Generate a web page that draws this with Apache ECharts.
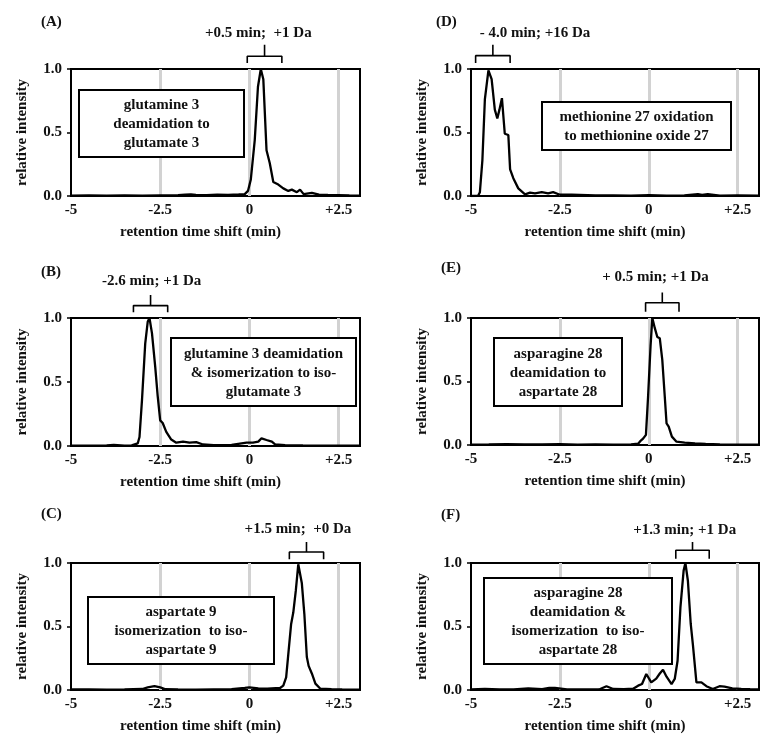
<!DOCTYPE html>
<html>
<head>
<meta charset="utf-8">
<script src="https://cdn.jsdelivr.net/npm/echarts@6/dist/echarts.min.js"></script>
<style>
html,body{margin:0;padding:0;background:#fff;}
#chart{width:776px;height:747px;}
</style>
</head>
<body>
<div id="chart"></div>
<script>
// ---------- data ----------
const xTicks = [-5, -2.5, 0, 2.5];
const xTickLabels = ['-5', '-2.5', '0', '+2.5'];
const yTicks = [0, 0.5, 1.0];
const grayLines = [-2.5, 0, 2.5];

const timeA = [-5, -4.5, -4, -3.5, -3, -2.5, -2, -1.8, -1.64, -1.5, -1.2, -0.9, -0.6, -0.3, -0.13, -0.04, 0.04, 0.15, 0.24, 0.32, 0.39, 0.48, 0.57, 0.67, 0.81, 0.95, 1.09, 1.19, 1.33, 1.42, 1.52, 1.75, 1.95, 2.2, 2.5, 2.8, 3.1];
const intA  = [0.003, 0.005, 0.002, 0.004, 0.003, 0.005, 0.006, 0.01, 0.012, 0.008, 0.006, 0.01, 0.008, 0.012, 0.015, 0.04, 0.13, 0.44, 0.86, 1.0, 0.92, 0.36, 0.26, 0.11, 0.09, 0.06, 0.04, 0.05, 0.03, 0.05, 0.015, 0.025, 0.01, 0.008, 0.006, 0.004, 0.003];

const timeB = [-5, -4.5, -4, -3.8, -3.5, -3.3, -3.13, -3.08, -3.01, -2.92, -2.85, -2.80, -2.73, -2.64, -2.57, -2.50, -2.43, -2.33, -2.19, -2.05, -1.86, -1.68, -1.49, -1.3, -1.0, -0.5, -0.08, 0.1, 0.25, 0.34, 0.48, 0.63, 0.72, 1.0, 1.5, 2.0, 2.5, 3.1];
const intB  = [0.002, 0.003, 0.004, 0.008, 0.003, 0.005, 0.02, 0.07, 0.36, 0.80, 0.97, 1.0, 0.88, 0.62, 0.39, 0.20, 0.18, 0.11, 0.05, 0.026, 0.034, 0.026, 0.03, 0.012, 0.006, 0.008, 0.026, 0.026, 0.034, 0.06, 0.047, 0.034, 0.013, 0.006, 0.004, 0.003, 0.003, 0.002];

const timeC = [-5, -4.5, -4, -3.5, -3.0, -2.85, -2.66, -2.5, -2.35, -2.0, -1.5, -1.0, -0.5, -0.13, 0.0, 0.25, 0.5, 0.86, 0.95, 1.03, 1.09, 1.17, 1.23, 1.30, 1.37, 1.40, 1.47, 1.54, 1.61, 1.66, 1.75, 1.85, 1.99, 2.3, 2.6, 3.1];
const intC  = [0.004, 0.005, 0.003, 0.004, 0.008, 0.02, 0.03, 0.02, 0.006, 0.004, 0.003, 0.005, 0.006, 0.016, 0.02, 0.013, 0.01, 0.016, 0.034, 0.10, 0.28, 0.52, 0.61, 0.78, 0.99, 1.0, 0.84, 0.60, 0.26, 0.19, 0.13, 0.05, 0.01, 0.006, 0.004, 0.003];

const timeD = [-5, -4.8, -4.75, -4.68, -4.61, -4.51, -4.47, -4.42, -4.33, -4.26, -4.20, -4.13, -4.09, -4.05, -3.95, -3.9, -3.81, -3.67, -3.48, -3.34, -3.2, -3.01, -2.83, -2.69, -2.5, -2.17, -1.5, -1.0, -0.5, 0.0, 0.5, 1.0, 1.38, 1.5, 1.66, 2.0, 2.5, 3.1];
const intD  = [0.0, 0.002, 0.03, 0.28, 0.76, 0.99, 1.0, 0.92, 0.68, 0.61, 0.68, 0.77, 0.63, 0.49, 0.48, 0.21, 0.14, 0.06, 0.013, 0.026, 0.02, 0.03, 0.02, 0.03, 0.01, 0.01, 0.004, 0.005, 0.003, 0.006, 0.003, 0.004, 0.015, 0.008, 0.015, 0.003, 0.004, 0.002];

const timeE = [-5, -4.5, -4, -3.5, -3, -2.5, -2, -1.5, -1, -0.5, -0.30, -0.24, -0.16, -0.08, -0.02, 0.05, 0.10, 0.17, 0.24, 0.31, 0.38, 0.45, 0.50, 0.56, 0.65, 0.78, 1.01, 1.3, 1.6, 2.0, 2.5, 3.1];
const intE  = [0.003, 0.004, 0.006, 0.005, 0.004, 0.006, 0.003, 0.004, 0.003, 0.005, 0.01, 0.03, 0.05, 0.08, 0.38, 0.78, 1.0, 0.92, 0.85, 0.84, 0.67, 0.38, 0.17, 0.145, 0.066, 0.026, 0.018, 0.012, 0.008, 0.004, 0.003, 0.002];

const timeF = [-5, -4.61, -4.2, -3.8, -3.39, -3.0, -2.8, -2.64, -2.3, -1.8, -1.4, -1.19, -1.0, -0.7, -0.44, -0.30, -0.19, -0.07, -0.02, 0.07, 0.21, 0.31, 0.40, 0.50, 0.64, 0.73, 0.81, 0.89, 0.98, 1.03, 1.10, 1.18, 1.24, 1.34, 1.48, 1.62, 1.80, 1.99, 2.13, 2.35, 2.6, 2.85, 3.1];
const intF  = [0.004, 0.008, 0.004, 0.005, 0.013, 0.006, 0.016, 0.016, 0.004, 0.005, 0.004, 0.03, 0.008, 0.006, 0.01, 0.034, 0.047, 0.126, 0.13, 0.06, 0.09, 0.13, 0.16, 0.105, 0.047, 0.087, 0.23, 0.65, 0.94, 1.0, 0.86, 0.52, 0.36, 0.06, 0.06, 0.03, 0.008, 0.03, 0.026, 0.013, 0.008, 0.006, 0.005];

// bracket annotations: [left x, right x], label text
const bracketA = [-0.06, 0.91], labelA = '+0.5 min;  +1 Da';
const bracketB = [-3.25, -2.29], labelB = '-2.6 min; +1 Da';
const bracketC = [1.12, 2.08], labelC = '+1.5 min;  +0 Da';
const bracketD = [-4.87, -3.90], labelD = '- 4.0 min; +16 Da';
const bracketE = [-0.09, 0.85], labelE = '+ 0.5 min; +1 Da';
const bracketF = [0.76, 1.70], labelF = '+1.3 min; +1 Da';

const boxA = ['glutamine 3', 'deamidation to', 'glutamate 3'];
const boxB = ['glutamine 3 deamidation', '& isomerization to iso-', 'glutamate 3'];
const boxC = ['aspartate 9', 'isomerization  to iso-', 'aspartate 9'];
const boxD = ['methionine 27 oxidation', 'to methionine oxide 27'];
const boxE = ['asparagine 28', 'deamidation to', 'aspartate 28'];
const boxF = ['asparagine 28', 'deamidation &', 'isomerization  to iso-', 'aspartate 28'];

const panelNames = ['(A)', '(B)', '(C)', '(D)', '(E)', '(F)'];
const xName = 'retention time shift (min)';
const yName = 'relative intensity';

// ---------- layout / style ----------
const FONT = '"Liberation Serif", "Times New Roman", serif';
const TXT = '#111';
const panels = [
  {t: timeA, v: intA, br: bracketA, lb: labelA, box: boxA, grid: [71, 69, 289, 127], bx: [79, 90, 165, 67], lbl: [41, 22], yy: [1.047, 1.10, 1.19, 1.28], lx: 0.25, nameShift: 30},
  {t: timeB, v: intB, br: bracketB, lb: labelB, box: boxB, grid: [71, 318, 289, 128], bx: [171, 338, 185, 68], lbl: [41, 272], yy: [1.044, 1.097, 1.18, 1.29], lx: -2.74, nameShift: 30},
  {t: timeC, v: intC, br: bracketC, lb: labelC, box: boxC, grid: [71, 563, 289, 127], bx: [88, 597, 186, 67], lbl: [41, 514], yy: [1.03, 1.087, 1.166, 1.27], lx: 1.36, nameShift: 30},
  {t: timeD, v: intD, br: bracketD, lb: labelD, box: boxD, grid: [471, 69, 288, 127], bx: [542, 102, 189, 48], lbl: [436, 22], yy: [1.047, 1.105, 1.19, 1.28], lx: -3.20, nameShift: 20},
  {t: timeE, v: intE, br: bracketE, lb: labelE, box: boxE, grid: [471, 318, 288, 127], bx: [494, 338, 128, 68], lbl: [441, 268], yy: [1.05, 1.12, 1.20, 1.32], lx: 0.19, nameShift: 20},
  {t: timeF, v: intF, br: bracketF, lb: labelF, box: boxF, grid: [471, 563, 288, 127], bx: [484, 578, 188, 86], lbl: [441, 515], yy: [1.034, 1.10, 1.166, 1.26], lx: 1.01, nameShift: 20}
];

const grids = [], xAxes = [], yAxes = [], series = [], graphics = [];
panels.forEach((p, i) => {
  grids.push({left: p.grid[0], top: p.grid[1], width: p.grid[2], height: p.grid[3],
    show: true, borderColor: '#000', borderWidth: 2, backgroundColor: 'transparent'});
  xAxes.push({type: 'value', gridIndex: i, min: -5, max: 3.1, interval: 2.5,
    axisLine: {show: false, onZero: false}, axisTick: {show: false}, splitLine: {show: false},
    axisLabel: {margin: 7, color: TXT, fontFamily: FONT, fontWeight: 'bold', fontSize: 15,
      formatter: v => { const k = xTicks.findIndex(t => Math.abs(t - v) < 1e-6); return k >= 0 ? xTickLabels[k] : ''; }},
    name: xName, nameLocation: 'middle', nameGap: 29,
    nameTextStyle: {color: TXT, fontFamily: FONT, fontWeight: 'bold', fontSize: 15, padding: [0, p.nameShift, 0, 0]}});
  yAxes.push({type: 'value', gridIndex: i, min: yTicks[0], max: yTicks[yTicks.length - 1], interval: 0.5,
    axisLine: {show: false, onZero: false}, axisTick: {show: true, length: 4, lineStyle: {color: '#000', width: 1.5}},
    splitLine: {show: false},
    axisLabel: {margin: 9, color: TXT, fontFamily: FONT, fontWeight: 'bold', fontSize: 15,
      formatter: v => v.toFixed(1)},
    name: yName, nameLocation: 'middle', nameGap: 41,
    nameTextStyle: {color: TXT, fontFamily: FONT, fontWeight: 'bold', fontSize: 15}});
  series.push({type: 'line', xAxisIndex: i, yAxisIndex: i, data: p.t.map((x, k) => [x, p.v[k]]),
    showSymbol: false, symbol: 'none', lineStyle: {color: '#000', width: 2.3}, z: 3, silent: true,
    markLine: {silent: true, symbol: 'none', z: 1, label: {show: false},
      lineStyle: {color: '#d2d2d2', width: 3, type: 'solid'},
      data: grayLines.map(g => ({xAxis: g}))}});
  const [yEnd, yBar, yTop, yLab] = p.yy;
  const xc = (p.br[0] + p.br[1]) / 2;
  series.push({type: 'line', xAxisIndex: i, yAxisIndex: i, clip: false, symbol: 'none', silent: true,
    data: [[p.br[0], yEnd], [p.br[0], yBar], [p.br[1], yBar], [p.br[1], yEnd]],
    lineStyle: {color: '#000', width: 1.6}, z: 4});
  series.push({type: 'line', xAxisIndex: i, yAxisIndex: i, clip: false, symbol: 'none', silent: true,
    data: [[xc, yBar], [xc, yTop]], lineStyle: {color: '#000', width: 1.6}, z: 4});
  series.push({type: 'scatter', xAxisIndex: i, yAxisIndex: i, clip: false, symbolSize: 0, silent: true,
    itemStyle: {opacity: 1},
    data: [[p.lx, yLab]],
    label: {show: true, position: 'inside', formatter: p.lb, color: TXT, fontFamily: FONT, fontWeight: 'bold', fontSize: 15}, z: 4});
  const [bx, by, bw, bh] = p.bx;
  graphics.push({type: 'rect', shape: {x: bx, y: by, width: bw, height: bh},
    style: {fill: '#fff', stroke: '#000', lineWidth: 2}, z: 10});
  graphics.push({type: 'text', x: bx + bw / 2, y: by + bh / 2 + 1, z: 11,
    style: {text: p.box.join('\n'), align: 'center', verticalAlign: 'middle', lineHeight: 19,
      fill: TXT, font: 'bold 15px ' + FONT}});
  graphics.push({type: 'text', x: p.lbl[0], y: p.lbl[1], z: 11,
    style: {text: panelNames[i], align: 'left', verticalAlign: 'middle', fill: TXT, font: 'bold 15px ' + FONT}});
});

const chart = echarts.init(document.getElementById('chart'), null, {renderer: 'canvas'});
chart.setOption({animation: false, backgroundColor: '#fff', grid: grids, xAxis: xAxes, yAxis: yAxes, series: series, graphic: graphics});
</script>
</body>
</html>
